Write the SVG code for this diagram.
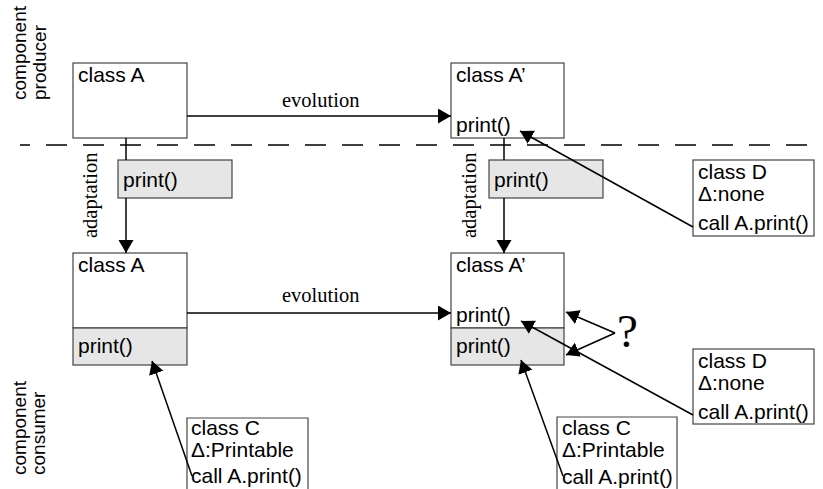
<svg xmlns="http://www.w3.org/2000/svg" width="823" height="489" viewBox="0 0 823 489">
<defs>
<marker id="ah" markerUnits="userSpaceOnUse" markerWidth="14" markerHeight="16" refX="13" refY="7.5" orient="auto" viewBox="0 0 14 16">
<path d="M0,0 L13,7.5 L0,15 z" fill="#000"/>
</marker>
<style>
.box{fill:#fff;stroke:#444;stroke-width:1.2}
.gray{fill:#e6e6e6;stroke:#444;stroke-width:1.2}
.t{font-family:"Liberation Sans",Arial,sans-serif;font-size:21px;fill:#000}
.s{font-family:"Liberation Serif","Times New Roman",serif;font-size:20.5px;fill:#000}
.side{font-family:"Liberation Sans",Arial,sans-serif;font-size:19px;fill:#000}
.c{stroke:#000;stroke-width:1.5;fill:none}
.ca{stroke:#000;stroke-width:1.5;fill:none;marker-end:url(#ah)}
</style>
</defs>
<rect width="823" height="489" fill="#fff"/>
<g id="labels">
<text class="side" transform="translate(26,100) rotate(-90)">component</text>
<text class="side" transform="translate(46,100) rotate(-90)">producer</text>
<text class="side" transform="translate(26,475) rotate(-90)">component</text>
<text class="side" transform="translate(45,475) rotate(-90)">consumer</text>
<text class="s" x="282" y="107">evolution</text>
<text class="s" x="282" y="302">evolution</text>
<text class="s" transform="translate(97,238) rotate(-90)">adaptation</text>
<text class="s" transform="translate(476,238) rotate(-90)">adaptation</text>
<text class="s" x="617" y="347" style="font-size:47px">?</text>
</g>
<g id="boundary">
<line x1="20" y1="145" x2="812" y2="145" stroke="#000" stroke-width="1.5" stroke-dasharray="21 16" stroke-dashoffset="11"/>
</g>
<g id="classA-producer">
<rect class="box" x="73" y="63" width="114" height="75"/>
<text class="t" x="78" y="82">class A</text>
</g>
<g id="classA2-producer">
<rect class="box" x="451" y="63" width="113" height="75"/>
<text class="t" x="456" y="82">class A’</text>
<text class="t" x="456" y="132">print()</text>
</g>
<g id="print-adapt-left">
<rect class="gray" x="118" y="160" width="114" height="38"/>
<text class="t" x="123" y="187">print()</text>
</g>
<g id="print-adapt-right">
<rect class="gray" x="489" y="160" width="114" height="38"/>
<text class="t" x="494" y="187">print()</text>
</g>
<g id="classD-top">
<rect class="box" x="693" y="160" width="121" height="76"/>
<text class="t" x="698" y="179">class D</text>
<text class="t" x="698" y="201">Δ:none</text>
<text class="t" x="698" y="230">call A.print()</text>
</g>
<g id="classA-consumer">
<rect class="box" x="73" y="253" width="114" height="75"/>
<rect class="gray" x="73" y="328" width="114" height="37"/>
<text class="t" x="78" y="272">class A</text>
<text class="t" x="78" y="353">print()</text>
</g>
<g id="classA2-consumer">
<rect class="box" x="451" y="253" width="113" height="75"/>
<rect class="gray" x="451" y="328" width="113" height="37"/>
<text class="t" x="456" y="272">class A’</text>
<text class="t" x="456" y="322">print()</text>
<text class="t" x="456" y="353">print()</text>
</g>
<g id="classD-bottom">
<rect class="box" x="693" y="349" width="121" height="75"/>
<text class="t" x="698" y="368">class D</text>
<text class="t" x="698" y="390">Δ:none</text>
<text class="t" x="698" y="419">call A.print()</text>
</g>
<g id="classC-left">
<path class="box" d="M187,495 V418 H308 V495"/>
<text class="t" x="191" y="435">class C</text>
<text class="t" x="191" y="457">Δ:Printable</text>
<text class="t" x="191" y="483">call A.print()</text>
</g>
<g id="classC-right">
<path class="box" d="M557,495 V417 H677 V495"/>
<text class="t" x="562" y="435">class C</text>
<text class="t" x="562" y="457">Δ:Printable</text>
<text class="t" x="562" y="484">call A.print()</text>
</g>
<g id="connectors">
<line class="ca" x1="187" y1="116" x2="451" y2="116"/>
<line class="ca" x1="187" y1="313" x2="451" y2="313"/>
<line class="c" x1="126" y1="138" x2="126" y2="160"/>
<line class="ca" x1="126" y1="198" x2="126" y2="253"/>
<line class="c" x1="504" y1="138" x2="504" y2="160"/>
<line class="ca" x1="504" y1="198" x2="504" y2="253"/>
<line class="ca" x1="693" y1="227" x2="520" y2="131"/>
<line class="ca" x1="693" y1="415" x2="521" y2="321"/>
<line class="ca" x1="615" y1="333" x2="566" y2="312"/>
<line class="ca" x1="615" y1="333" x2="566" y2="355"/>
<line class="ca" x1="192" y1="476" x2="152" y2="361"/>
<line class="ca" x1="563" y1="476" x2="521" y2="360"/>
</g>
</svg>
